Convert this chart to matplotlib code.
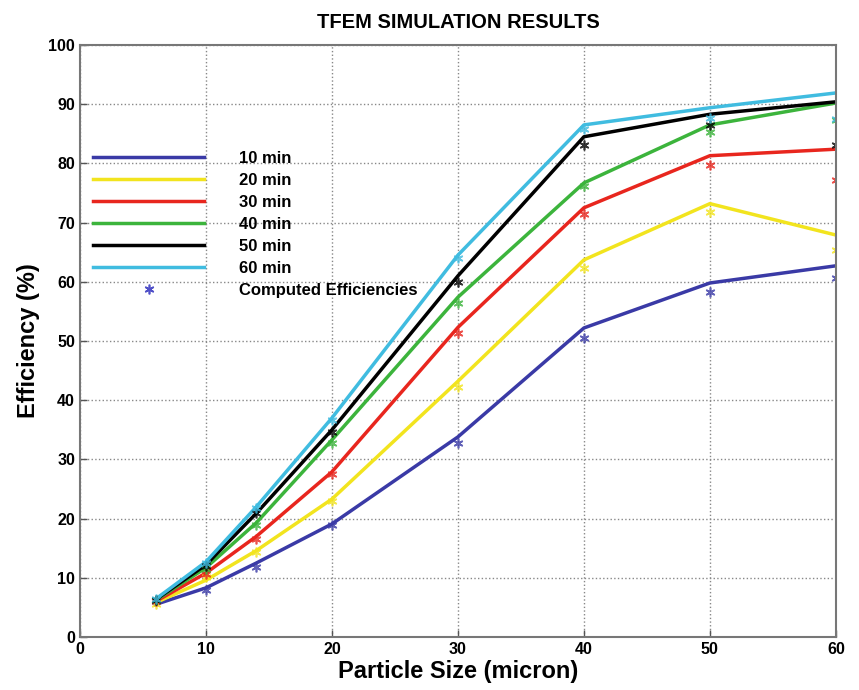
import numpy as np
import matplotlib
matplotlib.use('Agg')
import matplotlib.pyplot as plt
from matplotlib.lines import Line2D

plt.rcParams['font.family'] = ['Liberation Sans', 'DejaVu Sans']

# particle sizes (micron)
sizes = [6, 10, 14, 20, 30, 40, 50, 60]

# fitted curves, efficiency (%)
eff_10 = [5.5, 8.3, 12.5, 19.1, 33.8, 52.2, 59.8, 62.7]
eff_20 = [5.8, 9.6, 14.6, 23.3, 43.2, 63.7, 73.2, 67.9]
eff_30 = [6.0, 10.8, 17.0, 27.9, 52.3, 72.5, 81.3, 82.4]
eff_40 = [6.2, 11.7, 19.3, 33.3, 57.4, 76.7, 86.5, 90.2]
eff_50 = [6.3, 12.2, 20.9, 35.0, 61.0, 84.5, 88.3, 90.4]
eff_60 = [6.4, 12.7, 22.0, 37.0, 64.5, 86.5, 89.4, 91.9]

# computed efficiencies (asterisks)
comp_10 = [6.0, 8.0, 11.8, 19.0, 32.8, 50.5, 58.3, 60.6]
comp_20 = [5.6, 10.2, 14.4, 23.0, 42.2, 62.3, 71.8, 65.4]
comp_30 = [6.0, 10.6, 16.6, 27.5, 51.3, 71.5, 79.7, 77.2]
comp_40 = [6.2, 11.5, 19.0, 32.8, 56.4, 76.2, 85.3, 87.3]
comp_50 = [6.3, 12.0, 20.9, 34.6, 60.0, 83.1, 86.5, 83.1]
comp_60 = [6.4, 12.5, 21.8, 36.6, 64.0, 85.8, 87.7, 87.5]

labels = ['10 min', '20 min', '30 min', '40 min', '50 min', '60 min']
colors = ['#3a3aa6', '#f2e41e', '#e8261e', '#3cb43c', '#000000', '#40bce0']
curves = [eff_10, eff_20, eff_30, eff_40, eff_50, eff_60]
computed = [comp_10, comp_20, comp_30, comp_40, comp_50, comp_60]

fig = plt.figure(figsize=(8.59, 6.9), dpi=100)
ax = fig.add_axes([0.0931, 0.0768, 0.88, 0.858])

asterisk = (6, 2, 0)
handles = []
for y, c, lab in zip(curves, colors, labels):
    ax.plot(sizes, y, color=c, lw=2.5)
    handles.append(Line2D([], [], color=c, lw=2.5, label=lab))
for y, c in zip(computed, colors):
    ax.plot(sizes, y, ls='none', marker=asterisk, color=c, ms=7, mew=1.2, alpha=0.8)
handles.append(Line2D([], [], ls='none', marker=asterisk, color='#5050c8', ms=7, mew=1.2,
                      label='Computed Efficiencies'))

ax.set_xlim(0, 60)
ax.set_ylim(0, 100)
ax.set_xticks(range(0, 61, 10))
ax.set_yticks(range(0, 101, 10))
ax.grid(True, ls=':', color='#888888', lw=1)
ax.tick_params(direction='in', labelsize=11.5, width=1, length=5, colors='#555555',
               labelcolor='black')
for lbl in ax.get_xticklabels() + ax.get_yticklabels():
    lbl.set_fontweight('bold')
for s in ax.spines.values():
    s.set_color('#777777')
    s.set_linewidth(1.5)

ax.set_title('TFEM SIMULATION RESULTS', fontsize=14.5, fontweight='bold', pad=12)
ax.set_xlabel('Particle Size (micron)', fontsize=17, fontweight='bold', labelpad=2)
ax.set_ylabel('Efficiency (%)', fontsize=17, fontweight='bold', labelpad=6)

leg = ax.legend(handles=handles, loc='upper left', bbox_to_anchor=(0.008, 0.832),
                frameon=False, fontsize=12, handlelength=6.7, handletextpad=2.1,
                labelspacing=0.42, borderaxespad=0.2, borderpad=0.2)
for t in leg.get_texts():
    t.set_fontweight('bold')

fig.savefig('out.png', dpi=100)
